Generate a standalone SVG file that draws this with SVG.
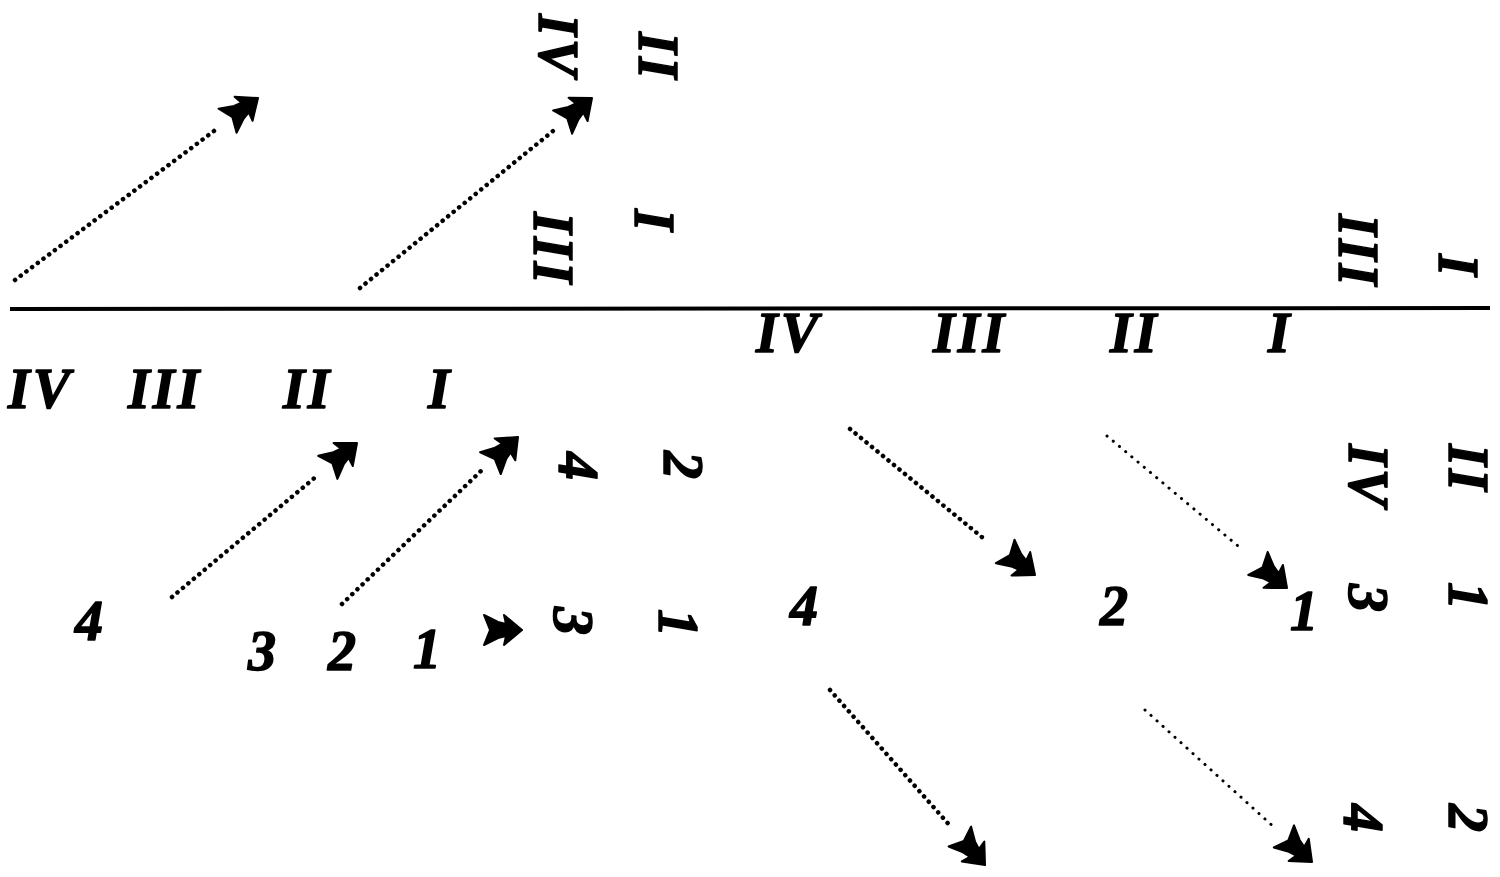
<svg xmlns="http://www.w3.org/2000/svg" xmlns:xlink="http://www.w3.org/1999/xlink" width="1500" height="877" viewBox="0 0 1500 877">
<style>
.lbl{font-family:"Liberation Serif","DejaVu Serif",serif;font-weight:bold;font-style:italic;font-size:56px;letter-spacing:3px;fill:#000;stroke:#000;stroke-width:1.5;stroke-linejoin:round}
.dot{fill:none;stroke:#000;stroke-linecap:round;stroke-dasharray:0.1 7;stroke-width:4.5}
.dotl{fill:none;stroke:#000;stroke-linecap:round;stroke-dasharray:0.1 8;stroke-width:3}
.axis{stroke:#000;stroke-width:4;fill:none}
.hd{fill:#000;stroke:#000;stroke-width:2;stroke-linejoin:round}
</style>
<defs>
<path id="head" class="hd" d="M0,0 L-18,-15 L-16,-6 L-24,-8 L-38,-15 L-32,0 L-38,15 L-24,8 L-16,6 L-18,15 Z"/>
</defs>
<rect width="1500" height="877" fill="#fff"/>
<g id="axis"><line class="axis" x1="10" y1="309" x2="1490" y2="308"/></g>
<g id="connectors">
<line class="dot" x1="15" y1="280" x2="218" y2="128"/>
<use xlink:href="#head" transform="translate(258,98) rotate(-36.8)"/>
<line class="dot" x1="360" y1="288" x2="553" y2="131"/>
<use xlink:href="#head" transform="translate(592,98) rotate(-39.3)"/>
<line class="dot" x1="172" y1="597" x2="318" y2="475"/>
<use xlink:href="#head" transform="translate(357,443) rotate(-39.8)"/>
<line class="dot" x1="342" y1="604" x2="481" y2="471"/>
<use xlink:href="#head" transform="translate(518,437) rotate(-43.5)"/>
<use xlink:href="#head" transform="translate(522,630)"/>
<line class="dot" x1="850" y1="429" x2="983" y2="538"/>
<use xlink:href="#head" transform="translate(1035,575) rotate(38.3)"/>
<line class="dotl" x1="1107" y1="436" x2="1238" y2="546"/>
<use xlink:href="#head" transform="translate(1287,588) rotate(40.2)"/>
<line class="dot" x1="830" y1="690" x2="952" y2="828"/>
<use xlink:href="#head" transform="translate(985,865) rotate(48.5)"/>
<line class="dotl" x1="1145" y1="710" x2="1276" y2="829"/>
<use xlink:href="#head" transform="translate(1312,862) rotate(42.3)"/>
</g>
<g id="labels-left">
<text class="lbl" x="8" y="408">IV</text>
<text class="lbl" x="128" y="408">III</text>
<text class="lbl" x="283" y="408">II</text>
<text class="lbl" x="428" y="408">I</text>
</g>
<g id="labels-right">
<text class="lbl" x="756" y="352">IV</text>
<text class="lbl" x="933" y="352">III</text>
<text class="lbl" x="1110" y="352">II</text>
<text class="lbl" x="1268" y="352">I</text>
</g>
<g id="numbers">
<text class="lbl" x="75" y="640">4</text>
<text class="lbl" x="248" y="670">3</text>
<text class="lbl" x="328" y="670">2</text>
<text class="lbl" x="413" y="668">1</text>
<text class="lbl" x="790" y="625">4</text>
<text class="lbl" x="1100" y="625">2</text>
<text class="lbl" x="1290" y="630">1</text>
</g>
<g id="rotated">
<text class="lbl" transform="translate(539,14) rotate(90)">IV</text>
<text class="lbl" transform="translate(639,32) rotate(90)">II</text>
<text class="lbl" transform="translate(534,212) rotate(90)">III</text>
<text class="lbl" transform="translate(635,209) rotate(90)">I</text>
<text class="lbl" transform="translate(1339,214) rotate(90)">III</text>
<text class="lbl" transform="translate(1439,254) rotate(90)">I</text>
<text class="lbl" transform="translate(559,452) rotate(90)">4</text>
<text class="lbl" transform="translate(664,451) rotate(90)">2</text>
<text class="lbl" transform="translate(554,607) rotate(90)">3</text>
<text class="lbl" transform="translate(659,609) rotate(90)">1</text>
<text class="lbl" transform="translate(1349,444) rotate(90)">IV</text>
<text class="lbl" transform="translate(1449,444) rotate(90)">II</text>
<text class="lbl" transform="translate(1349,584) rotate(90)">3</text>
<text class="lbl" transform="translate(1449,582) rotate(90)">1</text>
<text class="lbl" transform="translate(1344,804) rotate(90)">4</text>
<text class="lbl" transform="translate(1449,804) rotate(90)">2</text>
</g>
</svg>
